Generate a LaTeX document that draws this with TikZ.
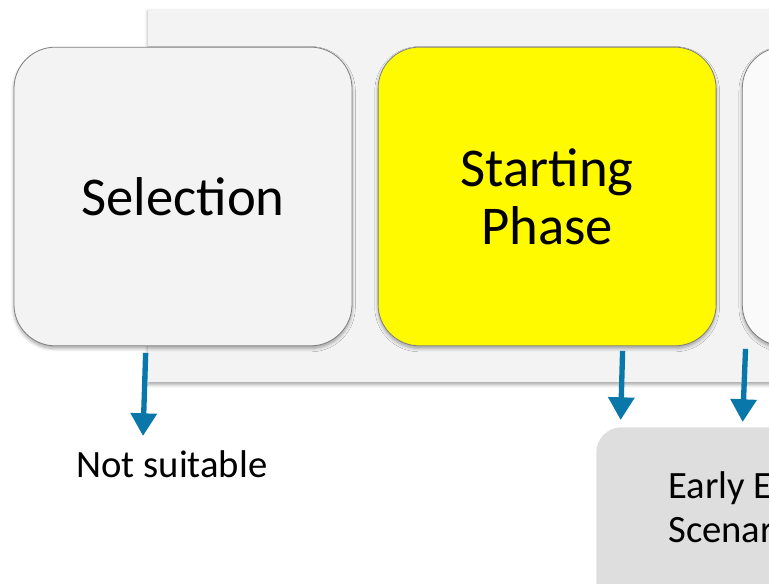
\documentclass[tikz,border=0pt]{standalone}
\usepackage{fontspec}
\setmainfont{Carlito}
\usetikzlibrary{positioning,shadows.blur,arrows.meta}

\definecolor{panelgray}{HTML}{F3F3F3}
\definecolor{boxedge}{HTML}{7F7F7F}
\definecolor{phaseyellow}{HTML}{FFFA00}
\definecolor{flowblue}{HTML}{0A77AB}
\definecolor{exitgray}{HTML}{DEDEDE}

\tikzset{
  phase/.style={draw=boxedge, line width=0.6pt, rounded corners=31pt,
    minimum width=253.5pt, minimum height=224pt, inner sep=0pt, align=center,
    font=\fontsize{41}{43.5}\selectfont,
    blur shadow={shadow xshift=0pt, shadow yshift=-2pt, shadow blur radius=2.5pt,
      shadow blur steps=6, shadow opacity=35}},
  exitbox/.style={fill=exitgray, rounded corners=19pt, inner sep=0pt},
  flow/.style={draw=flowblue, line width=4pt, -{Triangle[width=19pt,length=17pt]}},
}

\begin{document}
\begin{tikzpicture}[x=0.75pt, y=-0.75pt, node distance=19pt]
  \useasboundingbox (0,0) rectangle (769,584);
  \clip (0,0) rectangle (769,584);

  % grey band behind the phases
  \fill[panelgray, blur shadow={shadow xshift=0pt, shadow yshift=-2pt,
      shadow blur radius=2.5pt, shadow blur steps=6, shadow opacity=35}]
    (148,9) rectangle (900,382);

  % phases
  \node[phase, fill=panelgray] (sel) at (183,196.5) {Selection};
  \node[phase, fill=phaseyellow, right=of sel] (start) {Starting\\Phase};
  \node[phase, fill=white!60!panelgray, right=of start] (next) {};

  % outcomes
  \node[anchor=north, font=\fontsize{29}{34}\selectfont] (nosuit) at (172,446) {Not suitable};
  \node[exitbox, anchor=north west, minimum width=300pt, minimum height=150pt] (early) at (596,427) {};
  \node[anchor=north west, align=left, inner sep=0pt, font=\fontsize{29}{33}\selectfont]
    (earlytxt) at (668,471) {Early E\\Scenar};

  % exits
  \coordinate (selout) at ([xshift=-28pt, yshift=-5pt]sel.south);
  \coordinate (startout) at ([xshift=56.6pt, yshift=-3.5pt]start.south);
  \coordinate (nextout) at ([xshift=-124.3pt, yshift=-2pt]next.south);
  \draw[flow] (selout) -- ([xshift=-21.75pt, yshift=7.5pt]nosuit.north);
  \draw[flow] (startout) -- ([xshift=18.5pt, yshift=5.25pt]early.north west);
  \draw[flow] (nextout) -- ([xshift=110pt, yshift=3.75pt]early.north west);
\end{tikzpicture}
\end{document}
